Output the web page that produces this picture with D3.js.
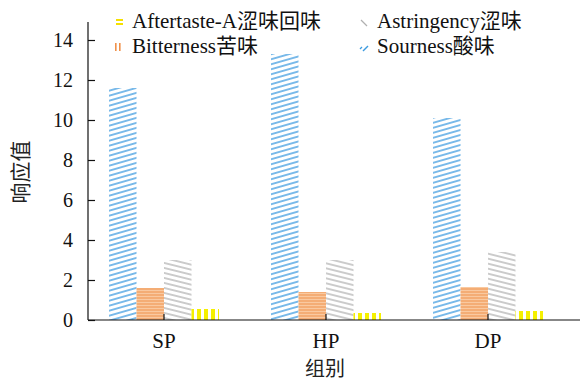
<!DOCTYPE html>
<html><head><meta charset="utf-8">
<script src="https://cdn.jsdelivr.net/npm/d3@7"></script>
<style>body{margin:0;background:#fff}svg{display:block}</style>
</head><body>
<svg id="c" width="580" height="379"></svg>
<script>
const categories = ["SP", "HP", "DP"];
const seriesNames = ["Sourness酸味", "Bitterness苦味", "Astringency涩味", "Aftertaste-A涩味回味"];
const sourness = [11.6, 13.3, 10.1];
const bitterness = [1.6, 1.4, 1.65];
const astringency = [3.0, 3.0, 3.4];
const aftertaste = [0.55, 0.35, 0.45];
const yTicks = [0, 2, 4, 6, 8, 10, 12, 14];

const seriesValues = [sourness, bitterness, astringency, aftertaste];
const fontF = '"Liberation Serif","Times New Roman","Noto Sans CJK SC",serif';
const svg = d3.select("#c");
const m = {l: 88, t: 20, b: 59};
const W = 580, H = 379;
const x = d3.scaleBand().domain(categories).range([83, 569]);
const inner = d3.scaleBand().domain(d3.range(4)).range([0, 110]);
const y = d3.scaleLinear().domain([0, 15]).range([H - m.b, m.t]);

const defs = svg.append("defs");
const p0 = defs.append("pattern").attr("id", "p0").attr("patternUnits", "userSpaceOnUse")
  .attr("width", 20).attr("height", 5).attr("patternTransform", "skewY(-16)");
p0.append("line").attr("x1", 0).attr("x2", 20).attr("y1", 2).attr("y2", 2).attr("stroke", "#3d9be0").attr("stroke-width", 1.4);
const p1 = defs.append("pattern").attr("id", "p1").attr("patternUnits", "userSpaceOnUse").attr("width", 10).attr("height", 3);
p1.append("rect").attr("width", 10).attr("height", 3).attr("fill", "#f9c9a0");
p1.append("line").attr("x1", 0).attr("x2", 10).attr("y1", 1).attr("y2", 1).attr("stroke", "#f0914a").attr("stroke-width", 1);
const p2 = defs.append("pattern").attr("id", "p2").attr("patternUnits", "userSpaceOnUse")
  .attr("width", 20).attr("height", 5).attr("patternTransform", "skewY(14)");
p2.append("line").attr("x1", 0).attr("x2", 20).attr("y1", 2).attr("y2", 2).attr("stroke", "#a8a8a8").attr("stroke-width", 1.2);
const p3 = defs.append("pattern").attr("id", "p3").attr("patternUnits", "userSpaceOnUse").attr("width", 7).attr("height", 10);
p3.append("rect").attr("x", 1).attr("width", 4).attr("height", 10).attr("fill", "#f5f000");

const g = svg.append("g");
seriesValues.forEach((vals, si) => {
  g.selectAll(".s" + si).data(vals).join("rect")
    .attr("x", (d, i) => x(categories[i]) + x.bandwidth() / 2 - 55 + inner(si))
    .attr("width", inner.bandwidth())
    .attr("y", d => y(d))
    .attr("height", d => y(0) - y(d))
    .attr("fill", "url(#p" + si + ")");
});

const yAx = svg.append("g").attr("transform", `translate(${m.l},0)`)
  .call(d3.axisLeft(y).tickValues(yTicks).tickSize(-7).tickPadding(15));
yAx.select(".domain").attr("d", `M0,${y(0)}V${m.t + 2}`);
const xAx = svg.append("g").attr("transform", `translate(0,${y(0)})`)
  .call(d3.axisBottom(x).tickSize(-6).tickPadding(13));
xAx.select(".domain").attr("d", `M${m.l},0H${W}`);
yAx.selectAll(".tick text").attr("font-size", 20);
xAx.selectAll(".tick text").attr("font-size", 21);
svg.selectAll(".tick text").attr("font-family", fontF).attr("fill", "#111");
svg.selectAll(".domain, .tick line").attr("stroke", "#111").attr("stroke-width", 1.2);

svg.append("text").attr("transform", `translate(28,172) rotate(-90)`).attr("text-anchor", "middle")
  .attr("font-family", fontF).attr("font-size", 21).attr("fill", "#222").text("响应值");
svg.append("text").attr("x", 325).attr("y", 376).attr("text-anchor", "middle")
  .attr("font-family", fontF).attr("font-size", 20).attr("fill", "#222").text("组别");

const legendItems = [
  {name: seriesNames[3], lx: 119, ly: 22, tx: 132, mark: "h", color: "#f5e000"},
  {name: seriesNames[2], lx: 364, ly: 23, tx: 377, mark: "bs", color: "#b0b0b0"},
  {name: seriesNames[1], lx: 118, ly: 47, tx: 132, mark: "v", color: "#f0914a"},
  {name: seriesNames[0], lx: 364, ly: 48, tx: 377, mark: "fs", color: "#3d9be0"}
];
const lg = svg.append("g");
legendItems.forEach((it, k) => {
  const gg = lg.append("g");
  if (it.mark === "h") {
    gg.append("rect").attr("x", it.lx - 3).attr("y", it.ly - 3).attr("width", 7).attr("height", 2).attr("fill", it.color);
    gg.append("rect").attr("x", it.lx - 3).attr("y", it.ly + 1).attr("width", 7).attr("height", 2).attr("fill", it.color);
  } else if (it.mark === "v") {
    gg.append("rect").attr("x", it.lx - 3).attr("y", it.ly - 4).attr("width", 1.6).attr("height", 8).attr("fill", it.color);
    gg.append("rect").attr("x", it.lx + 1).attr("y", it.ly - 4).attr("width", 1.6).attr("height", 8).attr("fill", it.color);
  } else if (it.mark === "bs") {
    gg.append("line").attr("x1", it.lx - 3).attr("y1", it.ly - 3).attr("x2", it.lx + 3).attr("y2", it.ly + 3).attr("stroke", it.color).attr("stroke-width", 1.2);
  } else {
    gg.append("line").attr("x1", it.lx - 1).attr("y1", it.ly + 3).attr("x2", it.lx + 4).attr("y2", it.ly - 2).attr("stroke", it.color).attr("stroke-width", 1.4);
    gg.append("line").attr("x1", it.lx - 4).attr("y1", it.ly + 1).attr("x2", it.lx - 2).attr("y2", it.ly - 1).attr("stroke", it.color).attr("stroke-width", 1.2);
  }
  gg.append("text").attr("x", it.tx).attr("y", k < 2 ? 28 : 53).attr("font-family", fontF).attr("font-size", 21)
    .attr("fill", "#111").text(it.name);
});
</script>
</body></html>
